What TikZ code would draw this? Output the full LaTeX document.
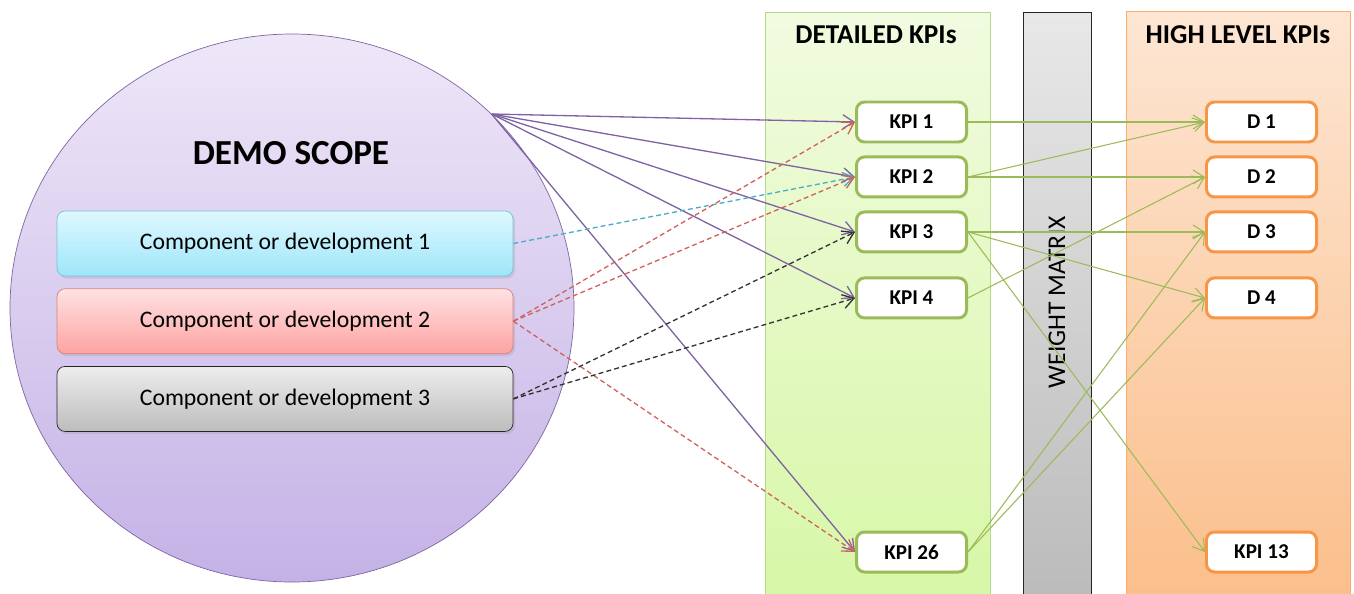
\documentclass[tikz,border=0pt]{standalone}
\usepackage{fontspec}
\setmainfont{Carlito}
\usepackage{tikz}
\usetikzlibrary{shapes.geometric, arrows.meta, positioning, shadows}
\definecolor{scopeline}{HTML}{8064A2}
\definecolor{scopetop}{HTML}{EEE7F8}
\definecolor{scopebottom}{HTML}{C4B2E6}
\definecolor{kpigreen}{HTML}{9BBB59}
\definecolor{dimorange}{HTML}{F79646}
\definecolor{linkred}{HTML}{D0625E}
\definecolor{linkcyan}{HTML}{4BACC6}
\tikzstyle{comp} = [rectangle, rounded corners=0.16cm, minimum width=9.12cm, minimum height=1.3cm, text centered, font=\fontsize{13.5}{16}\selectfont, drop shadow={opacity=0.2, shadow xshift=0.04cm, shadow yshift=-0.05cm}]
\tikzstyle{kpi} = [rectangle, draw=kpigreen, line width=1.7pt, fill=white, rounded corners=0.16cm, minimum width=2.2cm, minimum height=0.8cm, text centered, font=\bfseries\fontsize{12}{14}\selectfont]
\tikzstyle{arrow} = [-{Straight Barb[length=2.2mm, width=2.8mm]}]

\begin{document}
\begin{tikzpicture}[
        node distance=0.24cm,
        dim/.style={kpi, draw=dimorange},
        panel title/.style={font=\bfseries\fontsize{15.5}{18}\selectfont},
        scope link/.style={arrow, draw=scopeline, line width=0.75pt},
        weight link/.style={arrow, draw=kpigreen, line width=0.6pt},
        dash link/.style={arrow, line width=0.75pt, dash pattern=on 2.8pt off 1.8pt}
        ]

        \useasboundingbox (0,0) rectangle (27.08,-11.86);

        % the three columns
        \draw[draw={rgb,255:red,181;green,217;blue,138}, top color={rgb,255:red,241;green,251;blue,224}, bottom color={rgb,255:red,215;green,247;blue,166}] (15.3,-0.24) rectangle (19.8,-12.2);
        \draw[draw=black!85, top color=black!9, bottom color=black!27] (20.46,-0.24) rectangle (21.82,-12.2);
        \draw[draw={rgb,255:red,249;green,174;blue,108}, top color={rgb,255:red,253;green,230;blue,211}, bottom color={rgb,255:red,251;green,190;blue,138}] (22.52,-0.22) rectangle (27.0,-12.2);

        \node[panel title] (detailed_title) at (17.52,-0.70) {DETAILED KPIs};
        \node[panel title] (high_title) at (24.76,-0.70) {HIGH LEVEL KPIs};
        \node[rotate=90, font=\fontsize{14.5}{17}\selectfont] (weight_matrix) at (21.14,-6.04) {WEIGHT MATRIX};

        % demo scope
        \node[ellipse, draw=scopeline, inner sep=0pt, minimum width=11.28cm, minimum height=10.96cm,
              top color=scopetop, bottom color=scopebottom] (scope) at (5.84,-6.16) {};
        \node[font=\bfseries\fontsize{20}{24}\selectfont] (scope_title) at (5.82,-3.06) {DEMO SCOPE};

        \node[comp, draw=linkcyan!75, top color={rgb,255:red,223;green,248;blue,254}, bottom color={rgb,255:red,158;green,230;blue,250}] (comp_1) at (5.7,-4.87) {Component or development 1};
        \node[comp, draw=linkred!80, top color={rgb,255:red,255;green,226;blue,226}, bottom color={rgb,255:red,253;green,163;blue,161}, below=of comp_1] (comp_2) {Component or development 2};
        \node[comp, draw=black!85, top color=black!7, bottom color=black!26, below=of comp_2] (comp_3) {Component or development 3};

        % detailed KPIs
        \node[kpi] (kpi_1) at (18.23,-2.44) {KPI 1};
        \node[kpi, below=0.24cm of kpi_1] (kpi_2) {KPI 2};
        \node[kpi, below=0.24cm of kpi_2] (kpi_3) {KPI 3};
        \node[kpi, below=0.46cm of kpi_3] (kpi_4) {KPI 4};
        \node[kpi] (kpi_26) at (18.23,-11.04) {KPI 26};

        % high level KPIs
        \node[dim, right=4.74cm of kpi_1] (d_1) {D 1};
        \node[dim, right=4.74cm of kpi_2] (d_2) {D 2};
        \node[dim, right=4.74cm of kpi_3] (d_3) {D 3};
        \node[dim, right=4.74cm of kpi_4] (d_4) {D 4};
        \node[dim, right=4.74cm of kpi_26] (kpi_13) {KPI 13};

        % links
        \foreach \k in {1,2,3,4,26}
            \draw[scope link] (scope.north east) -- (kpi_\k.west);
        \draw[dash link, draw=linkcyan] (comp_1.east) -- (kpi_2.west);
        \foreach \k in {1,2,26}
            \draw[dash link, draw=linkred] (comp_2.east) -- (kpi_\k.west);
        \foreach \k in {3,4}
            \draw[dash link, draw=black!80] (comp_3.east) -- (kpi_\k.west);

        \draw[weight link] (kpi_1.east) -- (d_1.west);
        \draw[weight link] (kpi_2.east) -- (d_1.west);
        \draw[weight link] (kpi_2.east) -- (d_2.west);
        \draw[weight link] (kpi_3.east) -- (d_3.west);
        \draw[weight link] (kpi_3.east) -- (d_4.west);
        \draw[weight link] (kpi_3.east) -- (kpi_13.west);
        \draw[weight link] (kpi_4.east) -- (d_2.west);
        \draw[weight link] (kpi_26.east) -- (d_3.west);
        \draw[weight link] (kpi_26.east) -- (d_4.west);

    \end{tikzpicture}
\end{document}
